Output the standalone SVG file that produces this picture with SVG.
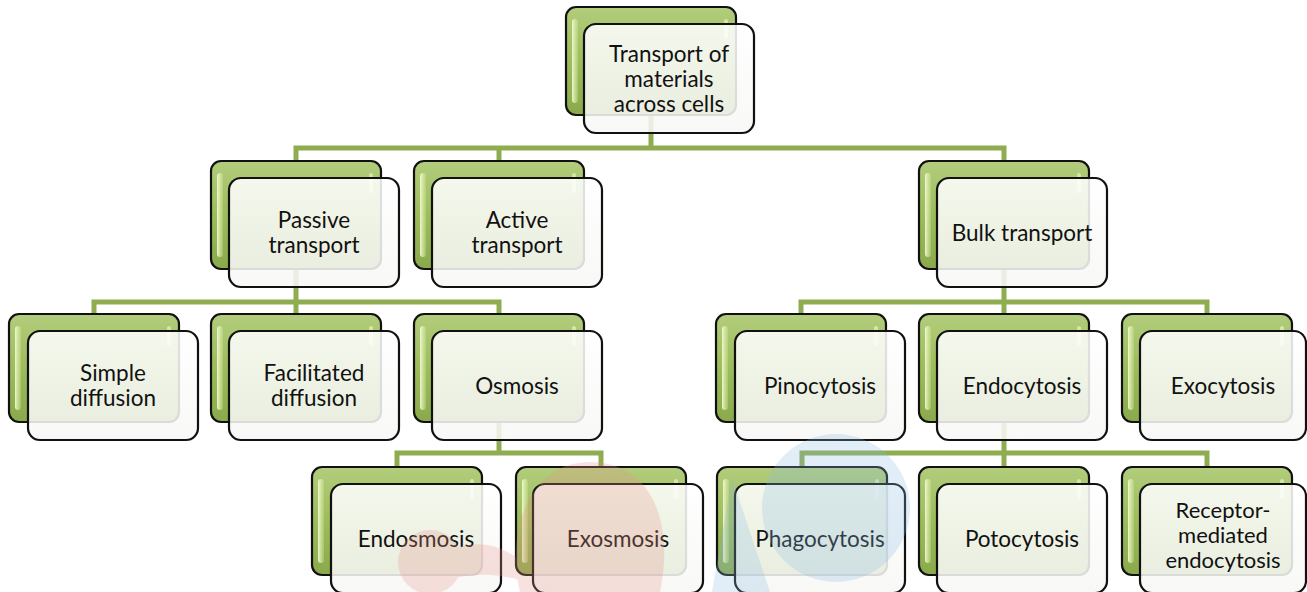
<svg xmlns="http://www.w3.org/2000/svg" width="1307" height="592" viewBox="0 0 1307 592">
<defs>
<linearGradient id="gGreen" x1="0" y1="0" x2="0" y2="1">
<stop offset="0" stop-color="#b2cd7c"/>
<stop offset="0.5" stop-color="#9dbc5c"/>
<stop offset="1" stop-color="#89a94b"/>
</linearGradient>
<linearGradient id="gHi" x1="0" y1="0" x2="1" y2="0">
<stop offset="0" stop-color="#f2fbd2" stop-opacity="0.95"/>
<stop offset="1" stop-color="#d8ec9e" stop-opacity="0.3"/>
</linearGradient>
<linearGradient id="gFront" x1="0" y1="0" x2="0" y2="1">
<stop offset="0" stop-color="#ffffff"/>
<stop offset="1" stop-color="#f7f7f5"/>
</linearGradient>
</defs>
<style>
.back{fill:url(#gGreen);stroke:#111;stroke-width:2.2}
.hi{fill:url(#gHi)}
.hi2{fill:#e4f2b8;opacity:0.7}
.front{fill:url(#gFront);fill-opacity:0.87;stroke:#111;stroke-width:2.2}
.conn{fill:none;stroke:#8fad50;stroke-width:5;stroke-linejoin:miter;stroke-linecap:butt}
text{font-family:Lato,"Liberation Sans",Arial,sans-serif;font-size:22.5px;fill:#111;text-anchor:middle}
.sm{font-size:22px}
.wm{opacity:0.26}
</style>

<g id="connectors">
<path class="conn" d="M651 115V148M296 161V148H1004V161M499 148V161"/>
<path class="conn" d="M296 269V302M94 314V302H499V314M296 302V314"/>
<path class="conn" d="M1004 269V302M801 314V302H1207V314M1004 302V314"/>
<path class="conn" d="M499 422V453M397 467V453H601V467"/>
<path class="conn" d="M1004 422V453M802 467V453H1207V467M1004 453V467"/>
</g>

<g id="n-top">
<rect class="back" x="566" y="7" width="170" height="108" rx="10"/>
<rect class="hi" x="572" y="19" width="6" height="84" rx="3"/>
<rect class="hi2" x="724" y="19" width="4" height="20" rx="2"/>
<rect class="front" x="584" y="24" width="170" height="109" rx="12"/>
<text x="669" y="62">Transport of</text>
<text x="669" y="87">materials</text>
<text x="669" y="112">across cells</text>
</g>

<g id="n-passive">
<rect class="back" x="211" y="161" width="170" height="108" rx="10"/>
<rect class="hi" x="217" y="173" width="6" height="84" rx="3"/>
<rect class="hi2" x="369" y="173" width="4" height="20" rx="2"/>
<rect class="front" x="229" y="178" width="170" height="109" rx="12"/>
<text x="314" y="228">Passive</text>
<text x="314" y="253">transport</text>
</g>

<g id="n-active">
<rect class="back" x="414" y="161" width="170" height="108" rx="10"/>
<rect class="hi" x="420" y="173" width="6" height="84" rx="3"/>
<rect class="hi2" x="572" y="173" width="4" height="20" rx="2"/>
<rect class="front" x="432" y="178" width="170" height="109" rx="12"/>
<text x="517" y="228">Active</text>
<text x="517" y="253">transport</text>
</g>

<g id="n-bulk">
<rect class="back" x="919" y="161" width="170" height="108" rx="10"/>
<rect class="hi" x="925" y="173" width="6" height="84" rx="3"/>
<rect class="hi2" x="1077" y="173" width="4" height="20" rx="2"/>
<rect class="front" x="937" y="178" width="170" height="109" rx="12"/>
<text x="1022" y="241">Bulk transport</text>
</g>

<g id="n-simple">
<rect class="back" x="9" y="314" width="170" height="108" rx="10"/>
<rect class="hi" x="15" y="326" width="6" height="84" rx="3"/>
<rect class="hi2" x="167" y="326" width="4" height="20" rx="2"/>
<rect class="front" x="28" y="331" width="170" height="109" rx="12"/>
<text x="113" y="381">Simple</text>
<text x="113" y="406">diffusion</text>
</g>

<g id="n-facilitated">
<rect class="back" x="211" y="314" width="170" height="108" rx="10"/>
<rect class="hi" x="217" y="326" width="6" height="84" rx="3"/>
<rect class="hi2" x="369" y="326" width="4" height="20" rx="2"/>
<rect class="front" x="229" y="331" width="170" height="109" rx="12"/>
<text x="314" y="381">Facilitated</text>
<text x="314" y="406">diffusion</text>
</g>

<g id="n-osmosis">
<rect class="back" x="414" y="314" width="170" height="108" rx="10"/>
<rect class="hi" x="420" y="326" width="6" height="84" rx="3"/>
<rect class="hi2" x="572" y="326" width="4" height="20" rx="2"/>
<rect class="front" x="432" y="331" width="170" height="109" rx="12"/>
<text x="517" y="394">Osmosis</text>
</g>

<g id="n-pinocytosis">
<rect class="back" x="716" y="314" width="170" height="108" rx="10"/>
<rect class="hi" x="722" y="326" width="6" height="84" rx="3"/>
<rect class="hi2" x="874" y="326" width="4" height="20" rx="2"/>
<rect class="front" x="735" y="331" width="170" height="109" rx="12"/>
<text x="820" y="394">Pinocytosis</text>
</g>

<g id="n-endocytosis">
<rect class="back" x="919" y="314" width="170" height="108" rx="10"/>
<rect class="hi" x="925" y="326" width="6" height="84" rx="3"/>
<rect class="hi2" x="1077" y="326" width="4" height="20" rx="2"/>
<rect class="front" x="937" y="331" width="170" height="109" rx="12"/>
<text x="1022" y="394">Endocytosis</text>
</g>

<g id="n-exocytosis">
<rect class="back" x="1122" y="314" width="170" height="108" rx="10"/>
<rect class="hi" x="1128" y="326" width="6" height="84" rx="3"/>
<rect class="hi2" x="1280" y="326" width="4" height="20" rx="2"/>
<rect class="front" x="1140" y="331" width="166" height="109" rx="12"/>
<text x="1223" y="394">Exocytosis</text>
</g>

<g id="n-endosmosis">
<rect class="back" x="312" y="467" width="170" height="108" rx="10"/>
<rect class="hi" x="318" y="479" width="6" height="84" rx="3"/>
<rect class="hi2" x="470" y="479" width="4" height="20" rx="2"/>
<rect class="front" x="331" y="484" width="170" height="109" rx="12"/>
<text x="416" y="547">Endosmosis</text>
</g>

<g id="n-exosmosis">
<rect class="back" x="516" y="467" width="170" height="108" rx="10"/>
<rect class="hi" x="522" y="479" width="6" height="84" rx="3"/>
<rect class="hi2" x="674" y="479" width="4" height="20" rx="2"/>
<rect class="front" x="533" y="484" width="170" height="109" rx="12"/>
<text x="618" y="547">Exosmosis</text>
</g>

<g id="n-phagocytosis">
<rect class="back" x="717" y="467" width="170" height="108" rx="10"/>
<rect class="hi" x="723" y="479" width="6" height="84" rx="3"/>
<rect class="hi2" x="875" y="479" width="4" height="20" rx="2"/>
<rect class="front" x="735" y="484" width="170" height="109" rx="12"/>
<text x="820" y="547">Phagocytosis</text>
</g>

<g id="n-potocytosis">
<rect class="back" x="919" y="467" width="170" height="108" rx="10"/>
<rect class="hi" x="925" y="479" width="6" height="84" rx="3"/>
<rect class="hi2" x="1077" y="479" width="4" height="20" rx="2"/>
<rect class="front" x="937" y="484" width="170" height="109" rx="12"/>
<text x="1022" y="547">Potocytosis</text>
</g>

<g id="n-receptor">
<rect class="back" x="1122" y="467" width="170" height="108" rx="10"/>
<rect class="hi" x="1128" y="479" width="6" height="84" rx="3"/>
<rect class="hi2" x="1280" y="479" width="4" height="20" rx="2"/>
<rect class="front" x="1140" y="484" width="166" height="109" rx="12"/>
<text class="sm" x="1223" y="518">Receptor-</text>
<text class="sm" x="1223" y="543">mediated</text>
<text class="sm" x="1223" y="568">endocytosis</text>
</g>

<g id="watermark" class="wm">
<circle cx="836" cy="508" r="74" fill="#8dbbe2"/>
<path d="M732 478 L770 592 L712 592 Z" fill="#8dbbe2"/>
<path d="M590 462 C650 462 675 520 660 592 L520 592 C505 530 530 462 590 462 Z" fill="#e8938b"/>
<circle cx="430" cy="562" r="32" fill="#e8938b"/>
<path d="M455 548 C480 540 500 545 520 560 L520 580 C500 575 480 572 455 578 Z" fill="#e8938b"/>
</g>
</svg>
